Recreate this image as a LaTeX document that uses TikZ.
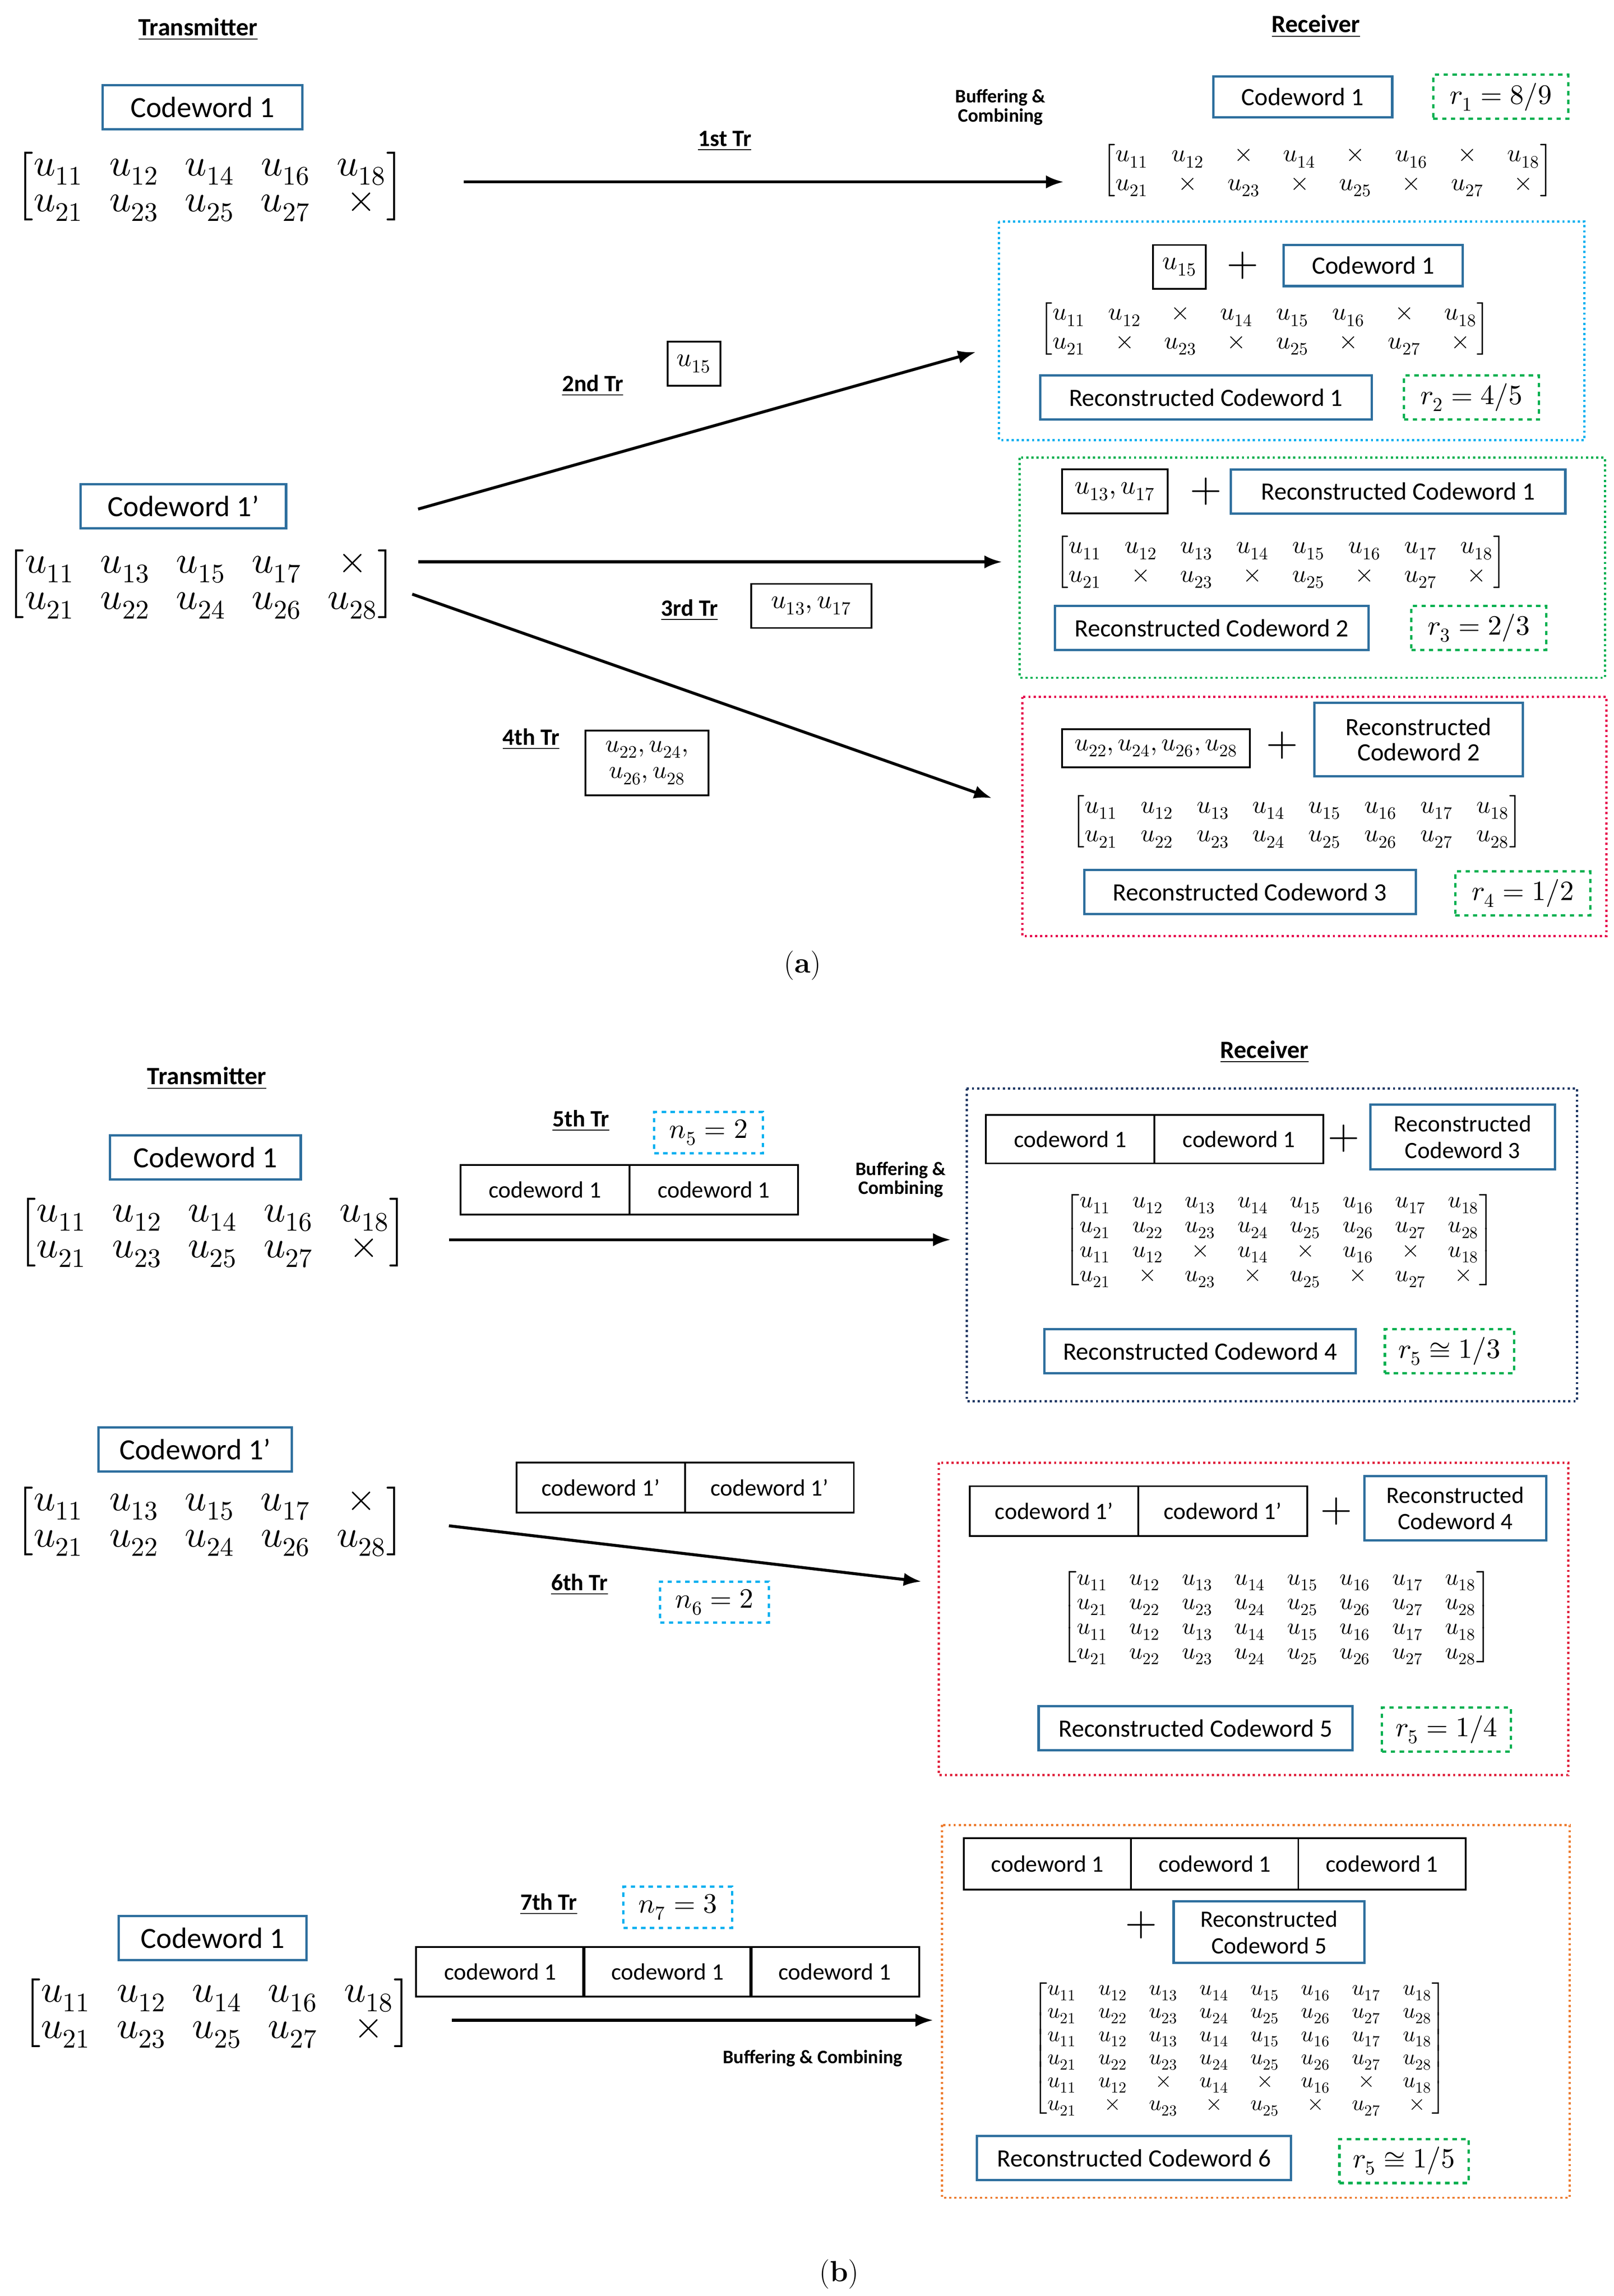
\documentclass[tikz,border=0pt]{standalone}
\usepackage{amsmath}
\usepackage{fontspec}
\usepackage{unicode-math}
\setmathfont{Latin Modern Math}
\setsansfont{Carlito}
\usetikzlibrary{arrows.meta}
\definecolor{bblue}{HTML}{2E6F9E}
\definecolor{gdash}{HTML}{00B050}
\definecolor{cdash}{HTML}{00B0F0}
\definecolor{navy}{HTML}{1F3864}
\definecolor{redd}{HTML}{E0203C}
\definecolor{pinkd}{HTML}{E6004C}
\definecolor{orng}{HTML}{ED7D31}
\newcommand\fs[1]{\fontsize{#1}{#1}\selectfont}
\tikzset{
 bbox/.style={draw=bblue,line width=1.6pt,font=\sffamily\fs{17},minimum height=30pt,inner sep=2pt,align=center},
 kbox/.style={draw=black,line width=1.2pt,font=\sffamily\fs{16},minimum height=34pt,minimum width=115pt,inner sep=1pt},
 mbox/.style={draw=black,line width=1.2pt,font=\fs{18},inner sep=3pt,minimum height=30pt,align=center},
 rbox/.style={draw=gdash,dashed,line width=1.6pt,font=\fs{19},minimum height=30pt,minimum width=92pt},
 nbox/.style={draw=cdash,dashed,line width=1.6pt,font=\fs{19},minimum height=28pt,minimum width=74pt},
 lab/.style={font=\sffamily\bfseries\fs{16}},
 small/.style={font=\sffamily\bfseries\fs{13},align=center},
 arr/.style={line width=2pt,-{Latex[length=12pt,width=9pt]}},
 plus/.style={font=\fs{28}},
 big/.style={font=\fs{26}},
 mid/.style={font=\fs{17}},
 sml/.style={font=\fs{16}},
 reg/.style={line width=1.5pt,dotted},
}
\newcommand\txmat[2]{$\setlength\arraycolsep{9pt}\renewcommand\arraystretch{0.95}\begin{bmatrix}#1\\#2\end{bmatrix}$}
\newcommand\rxtwo[2]{$\setlength\arraycolsep{8pt}\renewcommand\arraystretch{1.15}\begin{bmatrix}#1\\#2\end{bmatrix}$}
\newcommand\rxmany[1]{$\setlength\arraycolsep{7.5pt}\renewcommand\arraystretch{1.05}\begin{bmatrix}#1\end{bmatrix}$}
\newcommand\pr{’}
\begin{document}
\begin{tikzpicture}[x=1pt,y=-1pt]
\useasboundingbox (0,0) rectangle (1100,1565);
% ===== (a) =====
\node[lab,font=\sffamily\bfseries\fs{17}] (ta) at (135,20) {\underline{Transmitter}};
\node[lab,font=\sffamily\bfseries\fs{17}] (ra) at (897,18) {\underline{Receiver}};
\node[bbox,minimum width=136pt,font=\sffamily\fs{20}] (c1a) at (138,73) {Codeword 1};
\node[big] (m1a) at (143,127) {\txmat{u_{11}&u_{12}&u_{14}&u_{16}&u_{18}}{u_{21}&u_{23}&u_{25}&u_{27}&\times}};
\coordinate (a1s) at (316,124); \coordinate (a1e) at (725,124);
\draw[arr] (a1s) -- (a1e);
\node[lab] (l1) at (494,96) {\underline{1st Tr}};
\node[small] (bc1) at (682,73) {Buffering \&\\Combining};
\node[bbox,minimum width=122pt,minimum height=28pt] (rc1) at (888,66) {Codeword 1};
\node[rbox] (r1) at (1023,66) {$r_1=8/9$};
\node[mid] (rm1) at (905,116) {\rxtwo{u_{11}&u_{12}&\times&u_{14}&\times&u_{16}&\times&u_{18}}{u_{21}&\times&u_{23}&\times&u_{25}&\times&u_{27}&\times}};
% cyan region
\draw[reg,draw=cdash] (681,151) rectangle (1080,300);
\node[mbox,minimum width=36pt] (u15r) at (804,182) {$u_{15}$};
\node[plus] (p2) at (847,181) {$+$};
\node[bbox,minimum width=122pt,minimum height=28pt] (c1r2) at (936,181) {Codeword 1};
\node[mid] (rm2) at (862,224) {\rxtwo{u_{11}&u_{12}&\times&u_{14}&u_{15}&u_{16}&\times&u_{18}}{u_{21}&\times&u_{23}&\times&u_{25}&\times&u_{27}&\times}};
\node[bbox,minimum width=226pt] (rcw1) at (822,271) {Reconstructed Codeword 1};
\node[rbox] (r2) at (1003,271) {$r_2=4/5$};
\node[lab] (l2) at (404,263) {\underline{2nd Tr}};
\node[mbox,minimum width=36pt,minimum height=30pt] (u15t) at (473,248) {$u_{15}$};
% codeword 1'
\node[bbox,minimum width=140pt,font=\sffamily\fs{20}] (c1pa) at (125,345) {Codeword 1\pr};
\node[big] (m1pa) at (137,398) {\txmat{u_{11}&u_{13}&u_{15}&u_{17}&\times}{u_{21}&u_{22}&u_{24}&u_{26}&u_{28}}};
\coordinate (a2s) at (285,347); \coordinate (a2e) at (665,240);
\coordinate (a3s) at (285,383); \coordinate (a3e) at (683,383);
\coordinate (a4s) at (281,405); \coordinate (a4e) at (676,544);
\draw[arr] (a2s) -- (a2e);
\draw[arr] (a3s) -- (a3e);
\draw[arr] (a4s) -- (a4e);
% green region
\draw[reg,draw=gdash] (695,312) rectangle (1094,462);
\node[mbox,minimum width=72pt] (u1317r) at (760,335) {$u_{13},u_{17}$};
\node[plus] (p3) at (822,335) {$+$};
\node[bbox,minimum width=228pt] (rcw1b) at (953,335) {Reconstructed Codeword 1};
\node[mid] (rm3) at (873,383) {\rxtwo{u_{11}&u_{12}&u_{13}&u_{14}&u_{15}&u_{16}&u_{17}&u_{18}}{u_{21}&\times&u_{23}&\times&u_{25}&\times&u_{27}&\times}};
\node[bbox,minimum width=214pt] (rcw2) at (826,428) {Reconstructed Codeword 2};
\node[rbox] (r3) at (1008,428) {$r_3=2/3$};
\node[lab] (l3) at (470,416) {\underline{3rd Tr}};
\node[mbox,minimum width=82pt] (u1317t) at (553,413) {$u_{13},u_{17}$};
\node[lab] (l4) at (362,504) {\underline{4th Tr}};
\node[mbox,minimum width=84pt,minimum height=44pt,font=\fs{17},inner sep=1pt] (u22t) at (441,520) {$u_{22},u_{24},$\\[1pt]$u_{26},u_{28}$};
% red region
\draw[reg,draw=pinkd] (697,475) rectangle (1095,638);
\node[mbox,minimum width=128pt,minimum height=26pt,font=\fs{17},inner sep=1pt] (u22r) at (788,510) {$u_{22},u_{24},u_{26},u_{28}$};
\node[plus] (p4) at (874,508) {$+$};
\node[bbox,minimum width=142pt,minimum height=50pt] (rcw2b) at (967,504) {Reconstructed\\Codeword 2};
\node[mid] (rm4) at (884,560) {\rxtwo{u_{11}&u_{12}&u_{13}&u_{14}&u_{15}&u_{16}&u_{17}&u_{18}}{u_{21}&u_{22}&u_{23}&u_{24}&u_{25}&u_{26}&u_{27}&u_{28}}};
\node[bbox,minimum width=226pt] (rcw3) at (852,608) {Reconstructed Codeword 3};
\node[rbox] (r4) at (1038,609) {$r_4=1/2$};
\node[font=\fs{20}] (capa) at (547,658) {(\textbf{a})};
% ===== (b) =====
\node[lab,font=\sffamily\bfseries\fs{17}] (tb) at (141,735) {\underline{Transmitter}};
\node[lab,font=\sffamily\bfseries\fs{17}] (rb) at (862,717) {\underline{Receiver}};
\node[bbox,minimum width=130pt,font=\sffamily\fs{20}] (c1b) at (140,789) {Codeword 1};
\node[big] (m1b) at (145,840) {\txmat{u_{11}&u_{12}&u_{14}&u_{16}&u_{18}}{u_{21}&u_{23}&u_{25}&u_{27}&\times}};
\node[lab] (l5) at (396,764) {\underline{5th Tr}};
\node[nbox] (n5) at (483,772) {$n_5=2$};
\node[kbox] (k5a) at (371.5,811) {codeword 1};
\node[kbox] (k5b) at (486.5,811) {codeword 1};
\node[small] (bc2) at (614,804) {Buffering \&\\Combining};
\coordinate (b5s) at (306,845); \coordinate (b5e) at (648,845);
\draw[arr] (b5s) -- (b5e);
\draw[reg,draw=navy] (659,742) rectangle (1075,955);
\node[kbox,minimum height=33pt] (k5r1) at (729.5,776.5) {codeword 1};
\node[kbox,minimum height=33pt] (k5r2) at (844.5,776.5) {codeword 1};
\node[plus] (p5) at (916,776) {$+$};
\node[bbox,minimum width=126pt,minimum height=44pt,font=\sffamily\fs{16},inner sep=0pt] (rcw3b) at (997,775) {Reconstructed\\[2pt]Codeword 3};
\node[sml] (rm5) at (872,845) {\rxmany{u_{11}&u_{12}&u_{13}&u_{14}&u_{15}&u_{16}&u_{17}&u_{18}\\u_{21}&u_{22}&u_{23}&u_{24}&u_{25}&u_{26}&u_{27}&u_{28}\\u_{11}&u_{12}&\times&u_{14}&\times&u_{16}&\times&u_{18}\\u_{21}&\times&u_{23}&\times&u_{25}&\times&u_{27}&\times}};
\node[bbox,minimum width=212pt] (rcw4) at (818,921) {Reconstructed Codeword 4};
\node[rbox,minimum width=88pt] (r5) at (988,921) {$r_5\cong1/3$};
% 6th
\node[bbox,minimum width=132pt,font=\sffamily\fs{20}] (c1pb) at (133,988) {Codeword 1\pr};
\node[big] (m1pb) at (143,1037) {\txmat{u_{11}&u_{13}&u_{15}&u_{17}&\times}{u_{21}&u_{22}&u_{24}&u_{26}&u_{28}}};
\node[kbox] (k6a) at (409.5,1014) {codeword 1\pr};
\node[kbox] (k6b) at (524.5,1014) {codeword 1\pr};
\coordinate (b6s) at (306,1040); \coordinate (b6e) at (628,1078);
\draw[arr] (b6s) -- (b6e);
\node[lab] (l6) at (395,1080) {\underline{6th Tr}};
\node[nbox] (n6) at (487,1092) {$n_6=2$};
\draw[reg,draw=redd] (640,997) rectangle (1069,1210);
\node[kbox] (k6r1) at (718.5,1030) {codeword 1\pr};
\node[kbox] (k6r2) at (833.5,1030) {codeword 1\pr};
\node[plus] (p6) at (911,1030) {$+$};
\node[bbox,minimum width=124pt,minimum height=44pt,font=\sffamily\fs{16},inner sep=0pt] (rcw4b) at (992,1028) {Reconstructed\\[2pt]Codeword 4};
\node[sml] (rm6) at (870,1102) {\rxmany{u_{11}&u_{12}&u_{13}&u_{14}&u_{15}&u_{16}&u_{17}&u_{18}\\u_{21}&u_{22}&u_{23}&u_{24}&u_{25}&u_{26}&u_{27}&u_{28}\\u_{11}&u_{12}&u_{13}&u_{14}&u_{15}&u_{16}&u_{17}&u_{18}\\u_{21}&u_{22}&u_{23}&u_{24}&u_{25}&u_{26}&u_{27}&u_{28}}};
\node[bbox,minimum width=214pt] (rcw5) at (815,1178) {Reconstructed Codeword 5};
\node[rbox,minimum width=88pt] (r6) at (986,1179) {$r_5=1/4$};
% 7th
\node[lab] (l7) at (374,1298) {\underline{7th Tr}};
\node[nbox] (n7) at (462,1300) {$n_7=3$};
\node[kbox] (k7a) at (341,1344) {codeword 1};
\node[kbox] (k7b) at (455,1344) {codeword 1};
\node[kbox] (k7c) at (569,1344) {codeword 1};
\coordinate (b7s) at (308,1377); \coordinate (b7e) at (636,1377);
\draw[arr] (b7s) -- (b7e);
\node[small] (bc3) at (554,1403) {Buffering \& Combining};
\node[bbox,minimum width=128pt,font=\sffamily\fs{20}] (c1c) at (145,1321) {Codeword 1};
\node[big] (m1c) at (148,1372) {\txmat{u_{11}&u_{12}&u_{14}&u_{16}&u_{18}}{u_{21}&u_{23}&u_{25}&u_{27}&\times}};
\draw[reg,draw=orng] (642,1244) rectangle (1070,1498);
\node[kbox,minimum width=114pt,minimum height=35pt] (k7r1) at (714,1270.5) {codeword 1};
\node[kbox,minimum width=114pt,minimum height=35pt] (k7r2) at (828,1270.5) {codeword 1};
\node[kbox,minimum width=114pt,minimum height=35pt] (k7r3) at (942,1270.5) {codeword 1};
\node[plus] (p7) at (778,1312) {$+$};
\node[bbox,minimum width=130pt,minimum height=42pt,font=\sffamily\fs{16},inner sep=0pt] (rcw5b) at (865,1317) {Reconstructed\\[2pt]Codeword 5};
\node[font=\fs{15}] (rm7) at (845,1396) {\rxmany{u_{11}&u_{12}&u_{13}&u_{14}&u_{15}&u_{16}&u_{17}&u_{18}\\u_{21}&u_{22}&u_{23}&u_{24}&u_{25}&u_{26}&u_{27}&u_{28}\\u_{11}&u_{12}&u_{13}&u_{14}&u_{15}&u_{16}&u_{17}&u_{18}\\u_{21}&u_{22}&u_{23}&u_{24}&u_{25}&u_{26}&u_{27}&u_{28}\\u_{11}&u_{12}&\times&u_{14}&\times&u_{16}&\times&u_{18}\\u_{21}&\times&u_{23}&\times&u_{25}&\times&u_{27}&\times}};
\node[bbox,minimum width=214pt] (rcw6) at (773,1471) {Reconstructed Codeword 6};
\node[rbox,minimum width=88pt] (r7) at (957,1473) {$r_5\cong1/5$};
\node[font=\fs{20}] (capb) at (572,1550) {(\textbf{b})};
\end{tikzpicture}
\end{document}
